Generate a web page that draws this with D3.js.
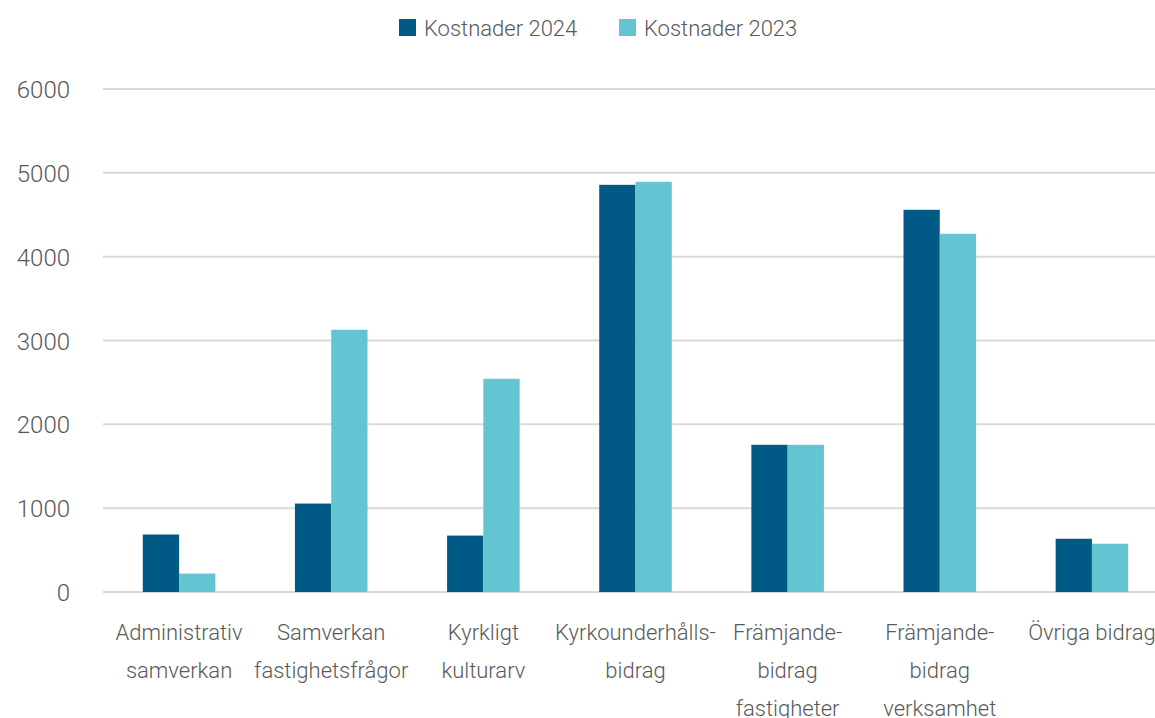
<!DOCTYPE html>
<html>
<head>
<meta charset="utf-8">
<script src="https://cdn.jsdelivr.net/npm/d3@7"></script>
<style>
  body { margin: 0; background: #fff; }
  text { font-family: Roboto, "Noto Sans", sans-serif; font-weight: 300; fill: #595959; }
</style>
</head>
<body>
<svg id="chart" width="1155" height="718"></svg>
<script>
// data
const categories = [
    ['Administrativ', 'samverkan'],
    ['Samverkan', 'fastighetsfrågor'],
    ['Kyrkligt', 'kulturarv'],
    ['Kyrkounderhålls-', 'bidrag'],
    ['Främjande-', 'bidrag', 'fastigheter'],
    ['Främjande-', 'bidrag', 'verksamhet'],
    ['Övriga bidrag']
]
const series = ['Kostnader 2024', 'Kostnader 2023']
const values2024 = [686, 1055, 673, 4857, 1756, 4559, 635]
const values2023 = [220, 3128, 2543, 4893, 1756, 4273, 576]
const yTicks = [0, 1000, 2000, 3000, 4000, 5000, 6000]

const colors = ['#005a85', '#65c4d2']

const width = 1155,
    height = 718,
    margin = { top: 89, right: -13, bottom: 126, left: 103 }

const svg = d3.select('#chart')

const keys = categories.map((c, i) => i)

const x = d3.scaleBand()
    .domain(keys)
    .range([margin.left, width - margin.right])
    .paddingInner(0.523)
    .paddingOuter(0.2615)

const xInner = d3.scaleBand()
    .domain(series)
    .range([0, x.bandwidth()])

const y = d3.scaleLinear()
    .domain([0, 6000])
    .range([height - margin.bottom, margin.top])

// gridlines
svg.append('g')
    .selectAll('line')
    .data(yTicks)
    .enter()
    .append('line')
    .attr('x1', margin.left)
    .attr('x2', width)
    .attr('y1', d => y(d))
    .attr('y2', d => y(d))
    .attr('stroke', '#d9d9d9')
    .attr('stroke-width', 2)

// y axis labels
const yAxis = svg.append('g')
    .attr('transform', `translate(70,0)`)
    .call(d3.axisLeft(y).tickValues(yTicks).tickFormat(d3.format('d')).tickSize(0).tickPadding(0))
yAxis.select('.domain').remove()
yAxis.selectAll('text')
    .style('font-size', '24px')
    .attr('dy', '0.36em')

// bars
const rows = keys.map(i => ({ i: i, vals: [values2024[i], values2023[i]] }))

const groups = svg.append('g')
    .selectAll('g')
    .data(rows)
    .enter()
    .append('g')
    .attr('transform', d => `translate(${x(d.i)},0)`)

groups.selectAll('rect')
    .data(d => d.vals.map((v, k) => ({ key: series[k], v: v, k: k })))
    .enter()
    .append('rect')
    .attr('x', d => xInner(d.key))
    .attr('y', d => y(d.v))
    .attr('width', xInner.bandwidth())
    .attr('height', d => y(0) - y(d.v))
    .attr('fill', d => colors[d.k])

// category labels
const labels = svg.append('g')
    .selectAll('text')
    .data(rows)
    .enter()
    .append('text')
    .attr('text-anchor', 'middle')
    .style('font-size', '22px')
    .attr('x', d => x(d.i) + x.bandwidth() / 2)
    .attr('y', 640)

labels.selectAll('tspan')
    .data(d => categories[d.i])
    .enter()
    .append('tspan')
    .attr('x', function() { return d3.select(this.parentNode).attr('x') })
    .attr('dy', (d, j) => j === 0 ? 0 : 38)
    .text(d => d)

// legend
const legendX = [399, 619]
const legend = svg.append('g')
    .selectAll('g')
    .data(series)
    .enter()
    .append('g')
    .attr('transform', (d, i) => `translate(${legendX[i]},19)`)

legend.append('rect')
    .attr('width', 17)
    .attr('height', 17)
    .attr('fill', (d, i) => colors[i])

legend.append('text')
    .attr('x', 25)
    .attr('y', 9)
    .attr('dy', '0.36em')
    .style('font-size', '22px')
    .text(d => d)
</script>
</body>
</html>
